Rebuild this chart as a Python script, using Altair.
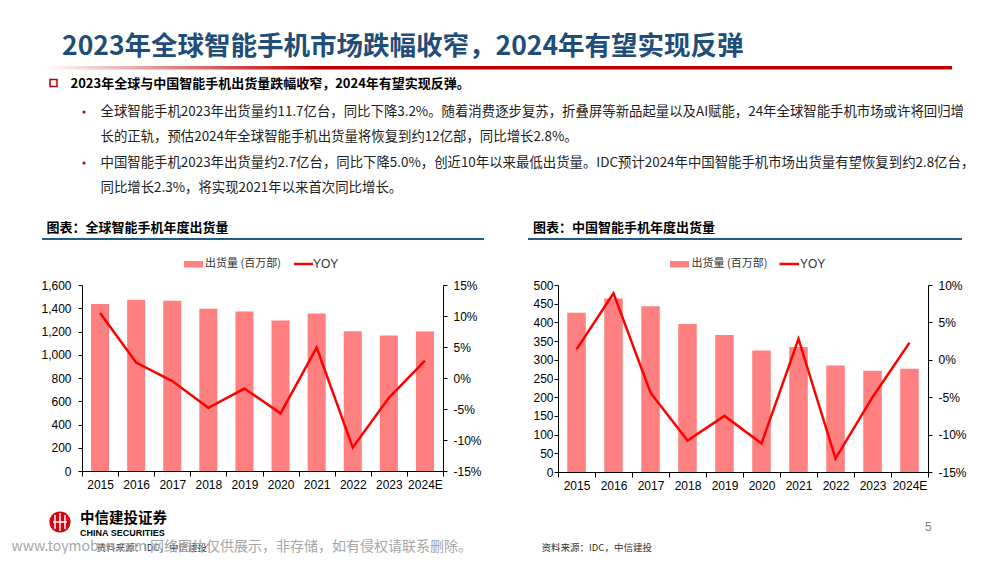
import altair as alt
import pandas as pd

# ---------------- data ----------------
years = ["2015", "2016", "2017", "2018", "2019", "2020", "2021", "2022", "2023", "2024E"]
global_ship = [1437, 1473, 1465, 1395, 1371, 1294, 1354, 1203, 1166, 1200]
global_yoy = [10.5, 2.5, -0.5, -4.8, -1.7, -5.7, 4.9, -11.2, -3.2, 2.8]
china_ship = [426, 464, 443, 396, 366, 325, 334, 285, 271, 276]
china_yoy = [1.4, 8.9, -4.4, -10.8, -7.5, -11.2, 2.8, -13.2, -5.0, 2.3]

left_ticks = [0, 200, 400, 600, 800, 1000, 1200, 1400, 1600]
left_pct_ticks = [-15, -10, -5, 0, 5, 10, 15]
right_ticks = [0, 50, 100, 150, 200, 250, 300, 350, 400, 450, 500]
right_pct_ticks = [-15, -10, -5, 0, 5, 10]

title = "2023年全球智能手机市场跌幅收窄，2024年有望实现反弹"
subtitle = "2023年全球与中国智能手机出货量跌幅收窄，2024年有望实现反弹。"
para = [
    "全球智能手机2023年出货量约11.7亿台，同比下降3.2%。随着消费逐步复苏，折叠屏等新品起量以及AI赋能，24年全球智能手机市场或许将回归增",
    "长的正轨，预估2024年全球智能手机出货量将恢复到约12亿部，同比增长2.8%。",
    "中国智能手机2023年出货量约2.7亿台，同比下降5.0%，创近10年以来最低出货量。IDC预计2024年中国智能手机市场出货量有望恢复到约2.8亿台，",
    "同比增长2.3%，将实现2021年以来首次同比增长。",
]
chart_titles = ["图表：全球智能手机年度出货量", "图表：中国智能手机年度出货量"]
legend_bar = "出货量 (百万部)"
legend_line = "YOY"
source = "资料来源：IDC，中信建投"
watermark = "www.toymoban.com 网络图片仅供展示，非存储，如有侵权请联系删除。"

df_g = pd.DataFrame({"year": years, "ship": global_ship, "yoy": global_yoy})
df_c = pd.DataFrame({"year": years, "ship": china_ship, "yoy": china_yoy})

W, H = 984, 546
CJK = "Noto Sans CJK SC"
LAT = "Liberation Sans"
BAR = "#FF8080"
LINE = "#FF0000"
one = pd.DataFrame({"k": [0]})


def txt(s, x, y, size, color="#000000", weight="normal", font=CJK, align="left", baseline="middle"):
    return alt.Chart(one).mark_text(
        text=s, fontSize=size, color=color, fontWeight=weight, font=font,
        align=align, baseline=baseline,
    ).encode(x=alt.value(x), y=alt.value(y))


def rect(x, x2, y, y2, **kw):
    return alt.Chart(one).mark_rect(**kw).encode(
        x=alt.value(x), x2=alt.value(x2), y=alt.value(y), y2=alt.value(y2))


def rule(x, x2, y, y2, color, width):
    return alt.Chart(one).mark_rule(color=color, strokeWidth=width).encode(
        x=alt.value(x), x2=alt.value(x2), y=alt.value(y), y2=alt.value(y2))


axis_style = dict(
    labelFont=LAT, labelFontSize=12, labelColor="#000000",
    domainColor="#000000", tickColor="#000000", domainWidth=1, tickWidth=1,
    grid=False, title=None, labelFlush=False, labelOverlap=False,
)


def panel(df, xr, yr, ydom, yvals, pdom, pvals, xoff, yloff, yroff, lpad):
    bars = alt.Chart(df).mark_bar(width=alt.RelativeBandSize(0.5), color=BAR).encode(
        x=alt.X("year:N", sort=years,
                scale=alt.Scale(type="band", domain=years, range=xr, paddingInner=0, paddingOuter=0),
                axis=alt.Axis(orient="bottom", offset=xoff, tickBand="extent", labelAngle=0,
                              tickSize=5, labelPadding=3, **axis_style)),
        y=alt.Y("ship:Q",
                scale=alt.Scale(domain=ydom, range=yr, nice=False, zero=True),
                axis=alt.Axis(orient="left", offset=yloff, values=yvals, format=",.0f",
                              tickSize=4, labelPadding=lpad, **axis_style)),
    )
    line = alt.Chart(df).mark_line(color=LINE, strokeWidth=2.5).encode(
        x=alt.X("year:N", sort=years,
                scale=alt.Scale(type="point", domain=years, range=xr, padding=0.5),
                axis=None),
        y=alt.Y("yoy:Q",
                scale=alt.Scale(domain=pdom, range=yr, nice=False, zero=False),
                axis=alt.Axis(orient="right", offset=yroff, values=pvals,
                              labelExpr="datum.value + '%'", tickSize=4, labelPadding=6,
                              **axis_style)),
    )
    return [bars, line]


left = panel(df_g, [74, 435], [463, 277], [0, 1600], left_ticks, [-15, 15], left_pct_ticks,
             463 - H, -74, 435 - W, 7)
right = panel(df_c, [550, 920], [464, 277], [0, 500], right_ticks, [-15, 10], right_pct_ticks,
              464 - H, -550, 920 - W, 1)

grad = alt.LinearGradient(
    gradient="linear",
    stops=[alt.GradientStop(color="#FFFFFF", offset=0),
           alt.GradientStop(color="#C00000", offset=0.3),
           alt.GradientStop(color="#C00000", offset=1)],
    x1=0, x2=1, y1=0, y2=0,
)

deco = [
    txt(title, 54, 39, 26.5, color="#1F4E79", weight="bold"),
    rect(34, 944, 58, 61.5, fill=grad),
    rect(42, 49, 71.5, 78.5, fill="#FFFFFF", stroke="#C00000", strokeWidth=1.5),
    txt(subtitle, 62.5, 75.5, 13, weight="bold"),
    alt.Chart(one).mark_circle(size=10, color="#C00000", opacity=1).encode(x=alt.value(76), y=alt.value(104)),
    alt.Chart(one).mark_circle(size=10, color="#C00000", opacity=1).encode(x=alt.value(76), y=alt.value(155)),
    txt(para[0], 92.5, 104, 13.4, color="#222222"),
    txt(para[1], 92.5, 129, 13.4, color="#222222"),
    txt(para[2], 92.5, 155, 13.4, color="#222222"),
    txt(para[3], 92.5, 180, 13.4, color="#222222"),
    # chart headers
    txt(chart_titles[0], 38.5, 220, 13, weight="bold"),
    rule(34, 476, 231, 231, "#1F5C8B", 2),
    txt(chart_titles[1], 525, 220, 13, weight="bold"),
    rule(520, 954, 231, 231, "#1F5C8B", 2),
    # legends
    rect(176, 195, 253, 259.5, fill=BAR),
    txt(legend_bar, 197, 256, 11, color="#333333"),
    rule(286, 305, 256, 256, LINE, 2.5),
    txt(legend_line, 305, 256, 12, color="#333333", font=LAT),
    rect(662, 681, 253, 259.5, fill=BAR),
    txt(legend_bar, 683.5, 256, 11, color="#333333"),
    rule(771.5, 791, 256, 256, LINE, 2.5),
    txt(legend_line, 792, 256, 12, color="#333333", font=LAT),
    # footer: logo
    alt.Chart(one).mark_circle(size=450, color="#D7000F", opacity=1).encode(x=alt.value(52), y=alt.value(514)),
    rule(47, 47, 507, 521, "#FFFFFF", 1.5),
    rule(52, 52, 505, 523, "#FFFFFF", 1.5),
    rule(57, 57, 507, 521, "#FFFFFF", 1.5),
    rule(45, 59, 514, 514, "#FFFFFF", 1.5),
    txt("中信建投证券", 72, 511, 14.5, weight="bold"),
    txt("CHINA SECURITIES", 72, 525, 9, weight="bold", font=LAT),
    txt(source, 88.5, 540, 9.5, color="#333333"),
    txt(source, 533.5, 540, 9.5, color="#333333"),
    txt("5", 917, 519, 12, color="#7F7F7F", font=LAT),
    txt(watermark, 3.5, 546, 14, color="#A6A6A6", baseline="bottom"),
]

chart = alt.layer(*left, *right, *deco).resolve_scale(
    x="independent", y="independent"
).properties(
    width=W, height=H, padding=0,
    autosize=alt.AutoSizeParams(type="none"),
    background="#FFFFFF",
).configure_view(stroke=None)

chart.save("out.html", embed_options={"renderer": "svg", "actions": False})
